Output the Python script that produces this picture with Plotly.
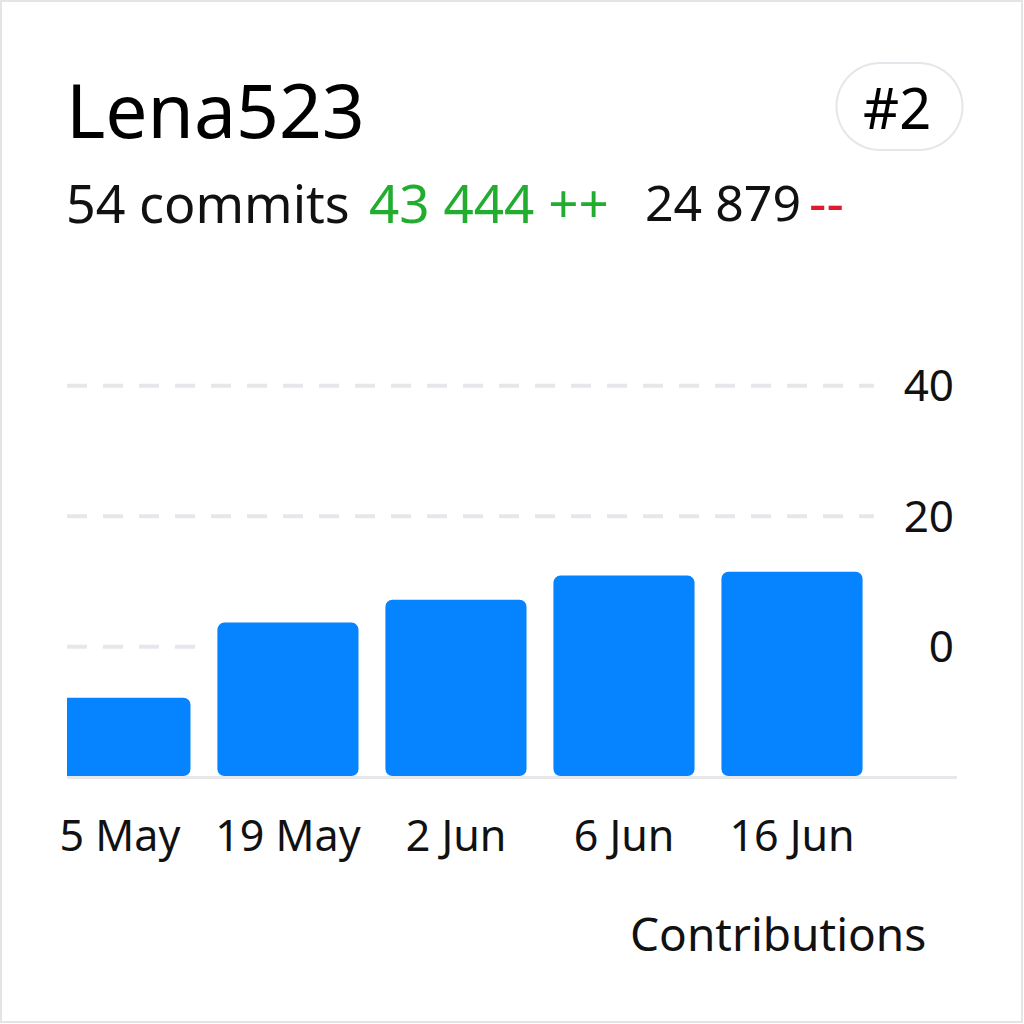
import plotly.graph_objects as go
import math

# ---- data ----
categories = ["5 May", "19 May", "2 Jun", "6 Jun", "16 Jun"]
values = [-7.8, 3.7, 7.2, 10.9, 11.5]
axis_floor = -19.8
axis_top = 45
y_ticks = [0, 20, 40]
y_tick_labels = ["0", "20", "40"]
title_text = "Lena523"
rank_text = "#2"
commits_text = "54 commits"
added_text = "43 444 ++"
removed_num_text = "24 879"
removed_mark_text = "--"
x_title_text = "Contributions"

# ---- layout geometry (pixels) ----
W = H = 1024
L, R, T, B = 67, 957, 353, 776
FONT = "Noto Sans, Open Sans, sans-serif"
INK = "#111111"
GRID = "#e5e7eb"


def px(x):
    return (x - L) / (R - L)


def py(y):
    return (B - y) / (B - T)


fig = go.Figure(
    go.Bar(
        x=categories,
        y=[v - axis_floor for v in values],
        base=axis_floor,
        width=0.84,
        marker=dict(color="#0684ff", cornerradius=7, line=dict(width=0)),
        hoverinfo="skip",
    )
)

shapes = []
# dashed gridlines
for v in y_ticks:
    x1 = px(196) if v == 0 else px(874)
    shapes.append(dict(type="line", xref="paper", yref="y", x0=0, x1=x1, y0=v, y1=v,
                       line=dict(color=GRID, width=4, dash="20px,16px"), layer="below"))

# outer card border
shapes.append(dict(type="rect", xref="paper", yref="paper",
                   x0=px(1), x1=px(1022), y0=py(1), y1=py(1022),
                   line=dict(color="#e4e4e4", width=2), fillcolor="rgba(0,0,0,0)", layer="below"))

# pill around rank
cx1, cx2, cy, r = 880, 919, 106.5, 43.5
pts = []
for k in range(0, 37):
    a = math.pi / 2 + math.pi * k / 36
    pts.append((cx1 + r * math.cos(a), cy - r * math.sin(a)))
for k in range(0, 37):
    a = -math.pi / 2 + math.pi * k / 36
    pts.append((cx2 + r * math.cos(a), cy - r * math.sin(a)))
path = "M " + " L ".join(f"{px(x):.5f},{py(y):.5f}" for x, y in pts) + " Z"
shapes.append(dict(type="path", xref="paper", yref="paper", path=path,
                   line=dict(color="#e3e6ea", width=2), fillcolor="rgba(0,0,0,0)"))

annotations = [
    dict(text=title_text, x=px(64), y=py(109), xanchor="left", yanchor="middle",
         font=dict(size=75, color="#000000", family=FONT)),
    dict(text=rank_text, x=px(897), y=py(107), xanchor="center", yanchor="middle",
         font=dict(size=56, color="#000000", family=FONT)),
    dict(text=commits_text, x=px(64), y=py(202), xanchor="left", yanchor="middle",
         font=dict(size=52, color=INK, family=FONT)),
    dict(text=added_text, x=px(367), y=py(202), xanchor="left", yanchor="middle",
         font=dict(size=53, color="#22ac30", family=FONT)),
    dict(text=removed_num_text, x=px(643), y=py(202), xanchor="left", yanchor="middle",
         font=dict(size=50, color=INK, family=FONT)),
    dict(text=removed_mark_text, x=px(807), y=py(202), xanchor="left", yanchor="middle",
         font=dict(size=54, color="#e0192d", family=FONT)),
    dict(text=x_title_text, x=px(928), y=py(933), xanchor="right", yanchor="middle",
         font=dict(size=46, color=INK, family=FONT)),
]
for a in annotations:
    a.update(xref="paper", yref="paper", showarrow=False)

fig.update_layout(
    width=W, height=H,
    margin=dict(l=L, r=W - R, t=T, b=H - B, pad=0),
    paper_bgcolor="white", plot_bgcolor="white",
    showlegend=False,
    shapes=shapes,
    annotations=annotations,
    font=dict(family=FONT, color=INK),
    xaxis=dict(
        type="category", range=[-0.315, 4.982],
        showline=True, linecolor=GRID, linewidth=3, layer="below traces",
        showgrid=False, zeroline=False, ticks="",
        tickfont=dict(size=43, color=INK, family=FONT),
        ticklabelstandoff=20, fixedrange=True,
    ),
    yaxis=dict(
        side="right", range=[axis_floor, axis_top],
        tickvals=y_ticks, ticktext=y_tick_labels,
        ticklabelposition="inside",
        showgrid=False, zeroline=False, showline=False, ticks="",
        tickfont=dict(size=44, color=INK, family=FONT),
        fixedrange=True,
    ),
)

fig.write_html("out.html", config={"displayModeBar": False})
